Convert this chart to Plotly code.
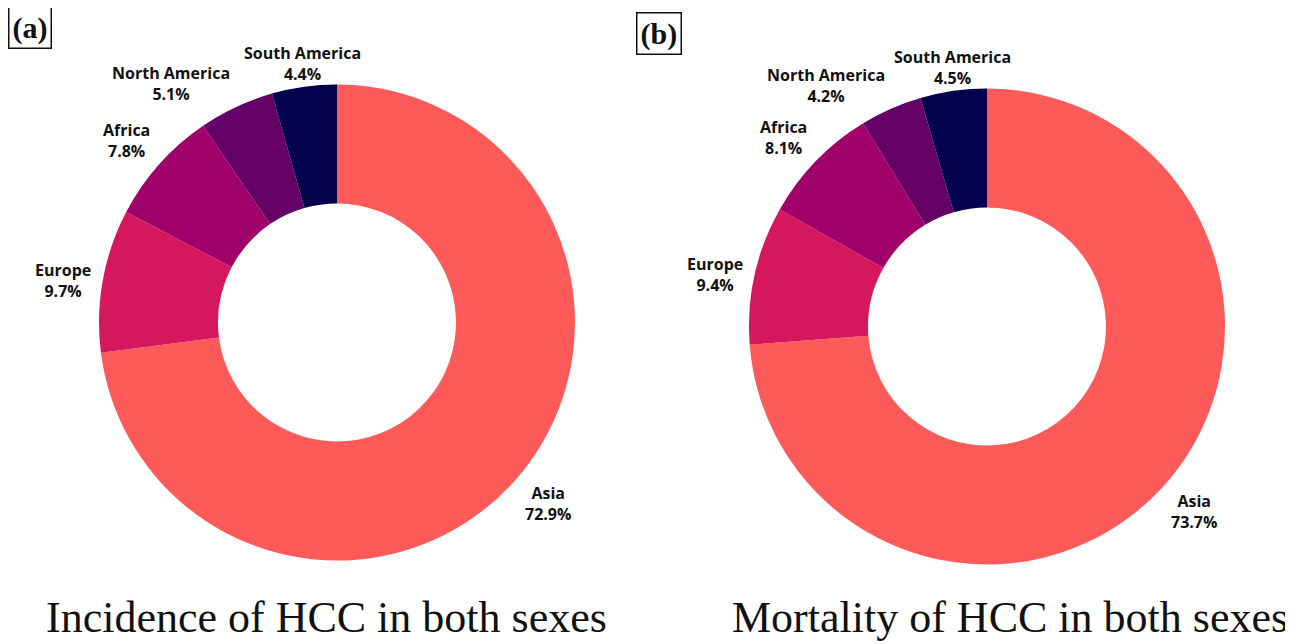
import math
import plotly.graph_objects as go

regions = ["Asia", "Europe", "Africa", "North America", "South America"]
incidence = [72.9, 9.7, 7.8, 5.1, 4.4]
mortality = [73.7, 9.4, 8.1, 4.2, 4.5]
colors = ["#FF5A5A", "#D5175E", "#A1006B", "#640066", "#03024F"]
titles = ["Incidence of HCC in both sexes", "Mortality of HCC in both sexes"]
panel_labels = ["(a)", "(b)"]

W, H = 1293, 644
# pie layout (figure pixels): centre x, centre y (from top), radius
PIES = [(329, 314.5, 238), (979, 318.5, 238)]
LABEL_GAP_X = 10
LABEL_GAP_Y = 0

fig = go.Figure()


def add_pie(values, geom):
    cx, cy, r = geom
    fig.add_trace(go.Pie(
        labels=regions, values=values, hole=0.5, sort=False,
        direction="clockwise", rotation=0,
        marker=dict(colors=colors, line=dict(width=0)),
        textinfo="none", automargin=False,
        domain=dict(x=[(cx - r) / W, (cx + r) / W],
                    y=[(H - cy - r) / H, (H - cy + r) / H]),
        showlegend=False, hoverinfo="label+value",
    ))
    # outside labels, placed at each slice's mid-angle
    total = sum(values)
    cum = 0.0
    for lab, v in zip(regions, values):
        ang = (cum + v / 2) / total * 2 * math.pi
        cum += v
        s, c = math.sin(ang), math.cos(ang)
        px = cx + (r + LABEL_GAP_X) * s
        py = cy - (r + LABEL_GAP_Y) * c
        xa = "center" if abs(s) < 0.3 else ("left" if s > 0 else "right")
        ya = "bottom" if c > 0.3 else ("top" if c < -0.3 else "middle")
        fig.add_annotation(x=px / W, y=(H - py) / H, xref="paper", yref="paper",
                           text=f"<b>{lab}<br>{v}%</b>", showarrow=False,
                           xanchor=xa, yanchor=ya, align="center",
                           font=dict(family="Open Sans", size=16, color="#111111"))


add_pie(incidence, PIES[0])
add_pie(mortality, PIES[1])

for t, px in zip(titles, [318.5, 1002]):
    fig.add_annotation(x=px / W, y=(H - 609) / H, xref="paper", yref="paper",
                       text=t, showarrow=False, xanchor="center", yanchor="middle",
                       font=dict(family="Liberation Serif", size=44, color="#111"))

for lab, px, py in zip(panel_labels, [22, 650.5], [19.5, 25.5]):
    fig.add_annotation(x=px / W, y=(H - py) / H, xref="paper", yref="paper",
                       text="<b>" + lab + "</b>", showarrow=False,
                       xanchor="center", yanchor="middle",
                       font=dict(family="Liberation Serif", size=30, color="#111"),
                       bordercolor="#111", borderwidth=1.5, borderpad=3)

fig.update_layout(width=W, height=H, margin=dict(l=0, r=0, t=0, b=0, autoexpand=False),
                  paper_bgcolor="white", plot_bgcolor="white")

fig.write_html("out.html")
